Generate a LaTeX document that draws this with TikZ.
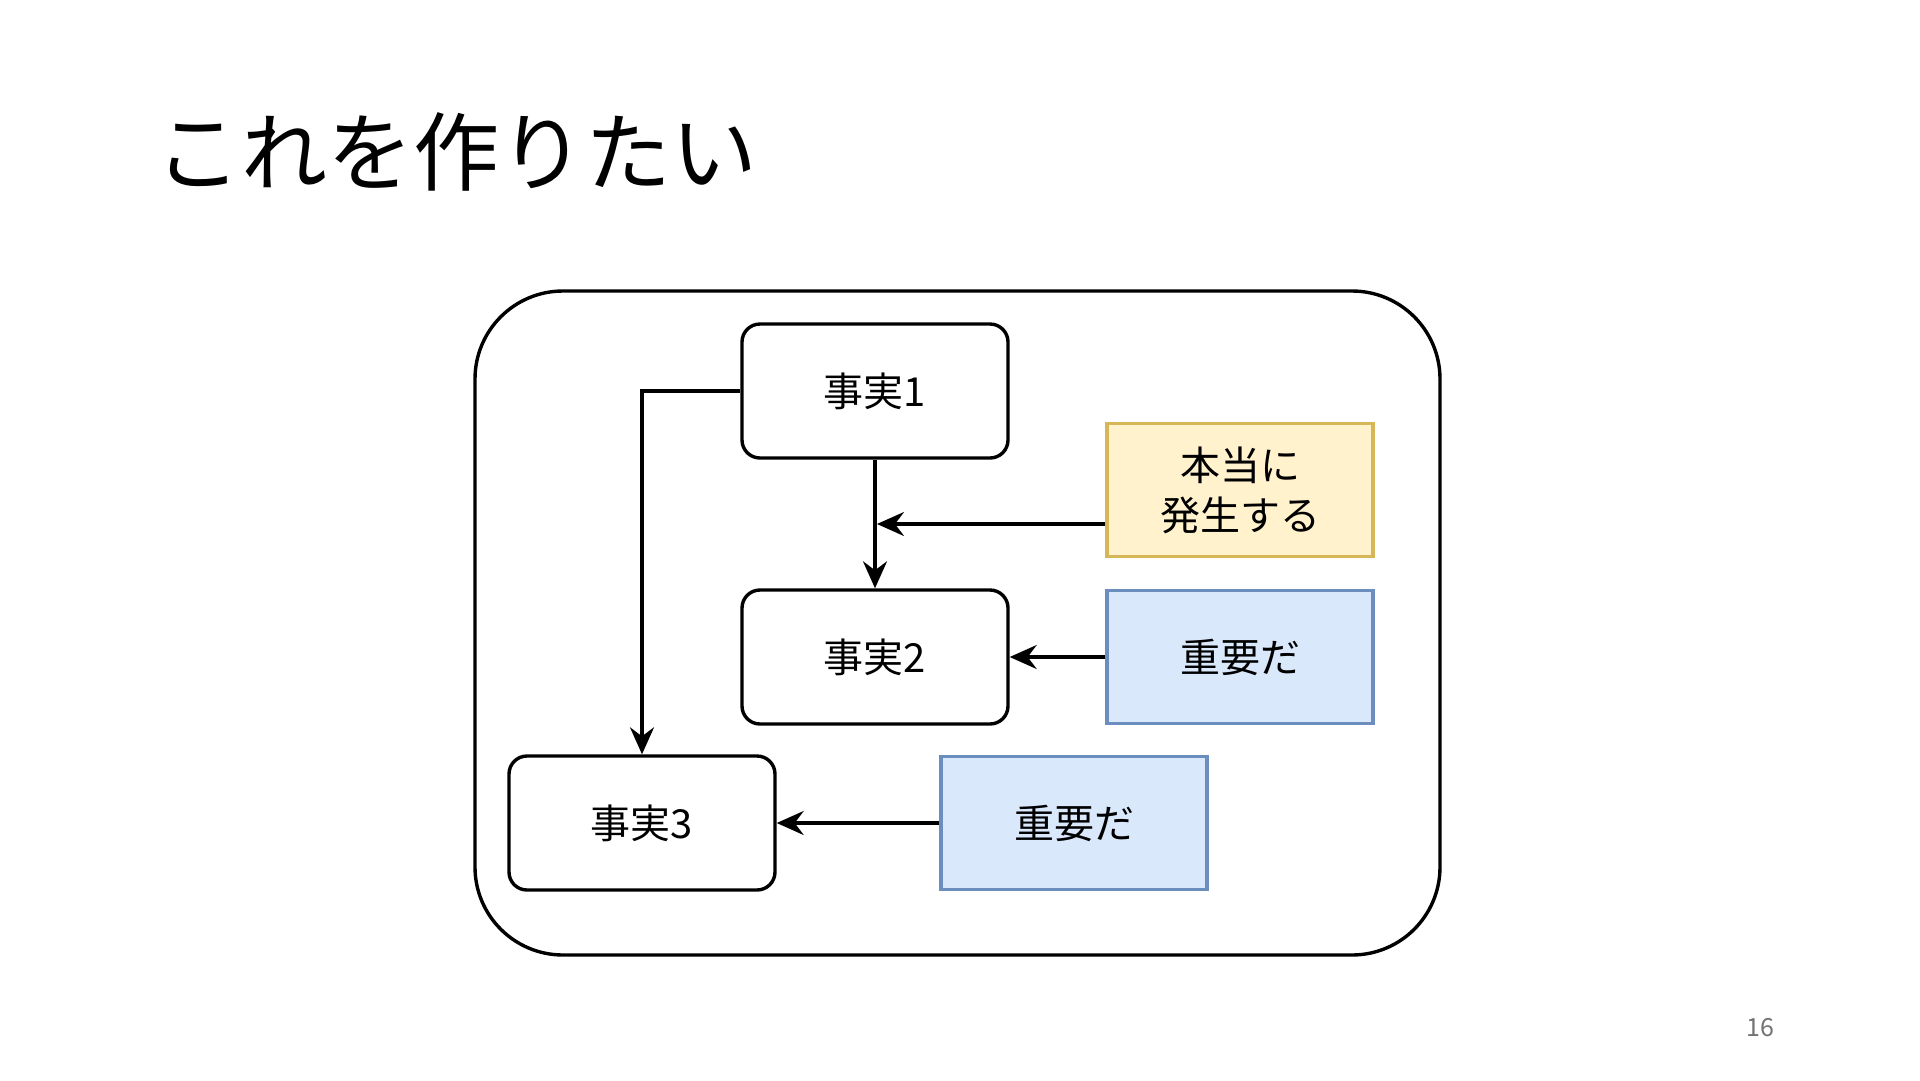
\documentclass[tikz,border=0pt]{standalone}
\usepackage{fontspec}
\setmainfont{Noto Sans CJK JP}
\usetikzlibrary{arrows.meta}
\definecolor{yfill}{HTML}{FFF2CC}
\definecolor{yline}{HTML}{D6B656}
\definecolor{bfill}{HTML}{DAE8FC}
\definecolor{bline}{HTML}{6C8EBF}
\begin{document}
\begin{tikzpicture}[x=1pt,y=-1pt,
  boxtext/.style={font=\fontsize{40}{50}\selectfont, align=center, text=black},
  fact/.style={boxtext, draw=black, line width=3.4pt, rounded corners=18pt, fill=white,
    minimum width=266pt, minimum height=134pt, inner sep=0pt},
  ybox/.style={boxtext, draw=yline, fill=yfill, line width=3.2pt,
    minimum width=266pt, minimum height=133pt, inner sep=0pt},
  bbox/.style={boxtext, draw=bline, fill=bfill, line width=3.2pt,
    minimum width=266pt, minimum height=133pt, inner sep=0pt},
  arr/.style={line width=3.2pt, draw=black,
    -{Stealth[length=27pt, width=24pt, inset=9pt]}},
]
\useasboundingbox (0,0) rectangle (1920,1080);
\fill[white] (0,0) rectangle (1920,1080);

\node[anchor=west, inner sep=0pt, font=\fontsize{86}{86}\selectfont] (title) at (155,152) {これを作りたい};

\node[draw=black, line width=3.4pt, rounded corners=88pt,
  minimum width=965pt, minimum height=664pt, inner sep=0pt] (outer) at (957.5,623) {};

\node[fact] (f1) at (875,391) {事実1};
\node[fact] (f2) at (875,657) {事実2};
\node[fact] (f3) at (642,823) {事実3};

\node[ybox] (y1) at (1240,490) {本当に\\発生する};
\node[bbox] (b1) at (1240,657) {重要だ};
\node[bbox] (b2) at (1074,823) {重要だ};

\coordinate (j) at (877,524);

\draw[arr] (f1.west) -| (f3.north);
\draw[arr] (f1.south) -- (f2.north);
\draw[arr] (y1.west |- j) -- (j);
\draw[arr] (b1.west) -- (f2.east);
\draw[arr] (b2.west) -- (f3.east);

\node[text=black!55, font=\fontsize{25}{25}\selectfont] (pg) at (1760,1028) {16};
\end{tikzpicture}
\end{document}
